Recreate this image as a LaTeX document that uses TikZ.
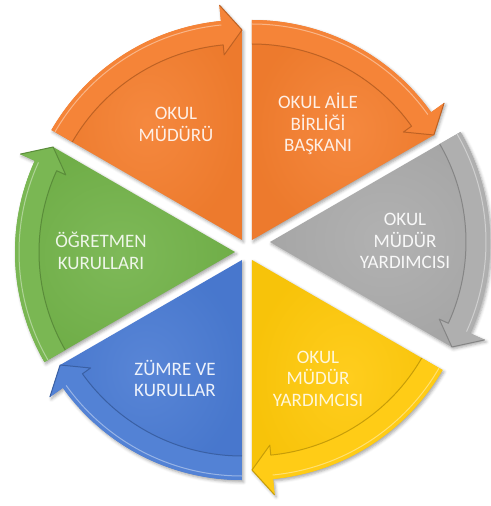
\documentclass[tikz,border=0pt]{standalone}
\usepackage{fontspec}
\setmainfont{Carlito}
\usetikzlibrary{shadows.blur}

\definecolor{segorange}{HTML}{F47E2E}
\definecolor{seggray}{HTML}{ABABAB}
\definecolor{seggold}{HTML}{FFC90A}
\definecolor{segblue}{HTML}{4A7BD3}
\definecolor{seggreen}{HTML}{73B34A}

\begin{document}
\begin{tikzpicture}[
    x=1pt, y=1pt,
    body/.style={blur shadow={shadow xshift=1.5pt, shadow yshift=-2pt,
                 shadow blur radius=3pt, shadow opacity=35}},
    groove/.style={line width=1pt, line join=round},
    segtext/.style={align=center, font=\fontsize{19}{21.5}\selectfont}
]
\useasboundingbox (-247,-256) rectangle (243,250);

% six wedges, each with its arrow on the rim (clockwise)
\foreach \dx/\dy/\a/\c in {-5/10/150/segorange, 5/10/90/segorange,
    23/8/30/seggray, 5/-10/-30/seggold, -5/-10/-90/segblue, -12/-2/210/seggreen}{
  \begin{scope}[shift={(\dx,\dy)}]
    \pgfmathsetmacro\e{\a-60}
    \pgfmathsetmacro\w{\a-54.5}
    \shade[body, inner color=\c!92!white, outer color=\c!97!black]
      (0,0) -- (\a:220) arc[start angle=\a, end angle=\w, radius=220pt]
      -- (\w:236) -- (\e:210) -- cycle;
    \fill[\c!95!white]
      (\a:220) arc[start angle=\a, end angle=\w, radius=220pt]
      -- (\w:236) -- (\e:210) -- (\w:186) -- (\w:196)
      arc[start angle=\w, end angle=\a, radius=196pt] -- cycle;
    \draw[groove, \c!78!black]
      (\a:196) arc[start angle=\a, end angle=\w, radius=196pt]
      -- (\w:186) -- (\e:210) -- (\w:236);
    \draw[line width=1pt, white, opacity=0.4]
      (\a:216) arc[start angle=\a, end angle=\w, radius=216pt];
  \end{scope}
}

\node (mudur)   [segtext, text=segorange!12!white] at (-71,125.5) {OKUL\\MÜDÜRÜ};
\node (aile)    [segtext, text=segorange!12!white] at (71,126) {OKUL AİLE\\BİRLİĞİ\\BAŞKANI};
\node (yard1)   [segtext, text=seggray!8!white]    at (158,9) {OKUL\\MÜDÜR\\YARDIMCISI};
\node (yard2)   [segtext, text=seggold!15!white]   at (71,-128.5) {OKUL\\MÜDÜR\\YARDIMCISI};
\node (zumre)   [segtext, text=segblue!10!white]   at (-72,-128.5) {ZÜMRE VE\\KURULLAR};
\node (ogretmen)[segtext, text=seggreen!12!white]  at (-146,-1) {ÖĞRETMEN\\KURULLARI};

\end{tikzpicture}
\end{document}
